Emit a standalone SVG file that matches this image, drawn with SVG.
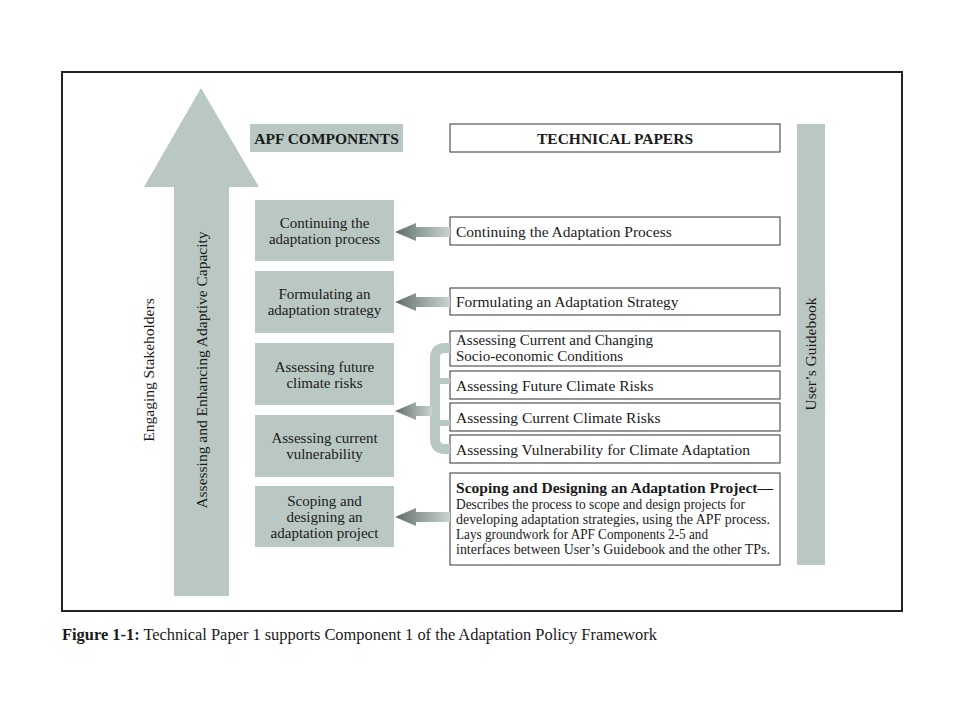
<svg xmlns="http://www.w3.org/2000/svg" width="960" height="720" viewBox="0 0 960 720">
<style>
.comp{fill:#bac8c4}
.tp{fill:#fff;stroke:#333;stroke-width:1}
.t{font-family:"Liberation Serif","Times New Roman",serif;font-size:15.5px;fill:#1a1a1a}
.c{text-anchor:middle}
.b{font-weight:bold}
.m{font-size:15px}
.s{font-size:14px}
</style>
<defs>
<linearGradient id="g" x1="0" y1="0" x2="1" y2="0">
<stop offset="0" stop-color="#5f6a68"/>
<stop offset="0.45" stop-color="#929e9b"/>
<stop offset="1" stop-color="#c9d3d0"/>
</linearGradient>
</defs>
<rect width="960" height="720" fill="#fff"/>
<rect x="62" y="72" width="840" height="539" fill="none" stroke="#222" stroke-width="2"/>

<g id="big-arrow">
<polygon class="comp" points="201,88 259,187 229,187 229,596 174,596 174,187 144,187"/>
<text class="t c" transform="translate(207,370) rotate(-90)">Assessing and Enhancing Adaptive Capacity</text>
</g>
<g id="engaging">
<text class="t c" transform="translate(154,370) rotate(-90)">Engaging Stakeholders</text>
</g>

<g id="apf-header">
<rect class="comp" x="250" y="124" width="153" height="28"/>
<text class="t c b" x="326.5" y="143.5">APF COMPONENTS</text>
</g>
<g id="tp-header">
<rect class="tp" x="450" y="124" width="330" height="28"/>
<text class="t c b" x="615" y="143.5">TECHNICAL PAPERS</text>
</g>

<g id="comp-continuing">
<rect class="comp" x="255" y="200" width="139" height="61"/>
<text class="t m c" x="324.5" y="228">Continuing the</text>
<text class="t m c" x="324.5" y="244">adaptation process</text>
</g>
<g id="comp-formulating">
<rect class="comp" x="255" y="271" width="139" height="62"/>
<text class="t m c" x="324.5" y="299">Formulating an</text>
<text class="t m c" x="324.5" y="315">adaptation strategy</text>
</g>
<g id="comp-future">
<rect class="comp" x="255" y="343" width="139" height="62"/>
<text class="t m c" x="324.5" y="372">Assessing future</text>
<text class="t m c" x="324.5" y="388">climate risks</text>
</g>
<g id="comp-current">
<rect class="comp" x="255" y="415" width="139" height="62"/>
<text class="t m c" x="324.5" y="443">Assessing current</text>
<text class="t m c" x="324.5" y="459">vulnerability</text>
</g>
<g id="comp-scoping">
<rect class="comp" x="255" y="486" width="139" height="61"/>
<text class="t m c" x="324.5" y="506">Scoping and</text>
<text class="t m c" x="324.5" y="522">designing an</text>
<text class="t m c" x="324.5" y="538">adaptation project</text>
</g>

<g id="tp-continuing">
<rect class="tp" x="450" y="217" width="330" height="28"/>
<text class="t" x="456" y="236.5">Continuing the Adaptation Process</text>
</g>
<g id="tp-formulating">
<rect class="tp" x="450" y="288" width="330" height="27"/>
<text class="t" x="456" y="307">Formulating an Adaptation Strategy</text>
</g>
<g id="tp-socio">
<rect class="tp" x="450" y="331" width="330" height="35"/>
<text class="t m" x="456" y="345">Assessing Current and Changing</text>
<text class="t m" x="456" y="361">Socio-economic Conditions</text>
</g>
<g id="tp-future">
<rect class="tp" x="450" y="371" width="330" height="28"/>
<text class="t" x="456" y="390.5">Assessing Future Climate Risks</text>
</g>
<g id="tp-current">
<rect class="tp" x="450" y="403" width="330" height="28"/>
<text class="t" x="456" y="422.5">Assessing Current Climate Risks</text>
</g>
<g id="tp-vulnerability">
<rect class="tp" x="450" y="435" width="330" height="28"/>
<text class="t" x="456" y="454.5">Assessing Vulnerability for Climate Adaptation</text>
</g>
<g id="tp-scoping">
<rect class="tp" x="450" y="473" width="330" height="92"/>
<text class="t b" x="456" y="493" textLength="317" lengthAdjust="spacingAndGlyphs">Scoping and Designing an Adaptation Project—</text>
<text class="t s" x="456" y="509" textLength="289" lengthAdjust="spacingAndGlyphs">Describes the process to scope and design projects for</text>
<text class="t s" x="456" y="524" textLength="314" lengthAdjust="spacingAndGlyphs">developing adaptation strategies, using the APF process.</text>
<text class="t s" x="456" y="539" textLength="252" lengthAdjust="spacingAndGlyphs">Lays groundwork for APF Components 2-5 and</text>
<text class="t s" x="456" y="554" textLength="314" lengthAdjust="spacingAndGlyphs">interfaces between User’s Guidebook and the other TPs.</text>
</g>

<g id="guidebook">
<rect class="comp" x="797" y="124" width="28" height="441"/>
<text class="t c" transform="translate(816,354) rotate(-90)">User’s Guidebook</text>
</g>

<g id="connectors">
<path d="M450,348 H445 Q435,348 435,358 V439 Q435,449 445,449 H450" fill="none" stroke="#bac8c4" stroke-width="10"/>
<path d="M435,381 H450 M435,423 H450" fill="none" stroke="#bac8c4" stroke-width="6"/>
<polygon fill="url(#g)" points="395,232 416,223 416,227 450,227 450,237 416,237 416,241"/>
<polygon fill="url(#g)" points="395,302 416,293 416,297 450,297 450,307 416,307 416,311"/>
<polygon fill="url(#g)" points="395,411 416,402 416,406 432,406 432,416 416,416 416,420"/>
<polygon fill="url(#g)" points="395,517 416,508 416,512 450,512 450,522 416,522 416,526"/>
</g>

<text x="62" y="640" font-family="Liberation Serif, Times New Roman, serif" font-size="16" fill="#1a1a1a" textLength="595" lengthAdjust="spacingAndGlyphs"><tspan font-weight="bold">Figure 1-1:</tspan> Technical Paper 1 supports Component 1 of the Adaptation Policy Framework</text>
</svg>
